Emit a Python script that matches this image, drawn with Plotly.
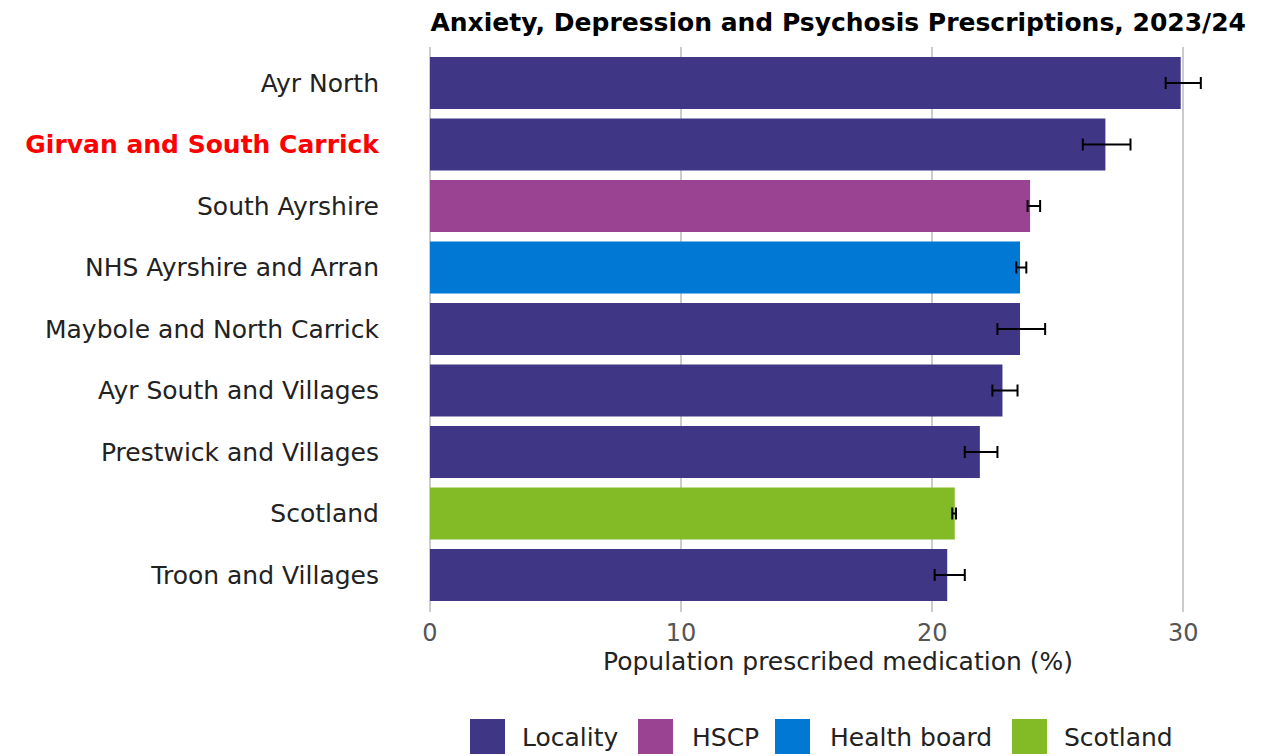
import plotly.graph_objects as go

# ---- data ----
areas = ["Ayr North", "Girvan and South Carrick", "South Ayrshire", "NHS Ayrshire and Arran",
         "Maybole and North Carrick", "Ayr South and Villages", "Prestwick and Villages",
         "Scotland", "Troon and Villages"]
area_types = ["Locality", "Locality", "HSCP", "Health board", "Locality", "Locality",
              "Locality", "Scotland", "Locality"]
values = [29.9, 26.9, 23.9, 23.5, 23.5, 22.8, 21.9, 20.9, 20.6]
lower_ci = [29.3, 26.0, 23.8, 23.35, 22.6, 22.4, 21.3, 20.8, 20.1]
upper_ci = [30.7, 27.9, 24.3, 23.75, 24.5, 23.4, 22.6, 20.95, 21.3]
highlight = "Girvan and South Carrick"
legend_order = ["Locality", "HSCP", "Health board", "Scotland"]
type_colors = {"Locality": "#3F3685", "HSCP": "#9B4393", "Health board": "#0078D4", "Scotland": "#83BB26"}
x_ticks = [0, 10, 20, 30]

OFF = 8  # page body margin
W, H = 1261 - OFF, 756 - OFF
ML, MR, MT, MB = 430 - OFF, 15, 47 - OFF, 144
FONT = "DejaVu Sans"

fig = go.Figure()
for t in legend_order:
    idx = [i for i, a in enumerate(area_types) if a == t]
    fig.add_trace(go.Bar(
        y=[areas[i] for i in idx],
        x=[values[i] for i in idx],
        orientation="h",
        name=t,
        marker=dict(color=type_colors[t], line=dict(width=0)),
        error_x=dict(type="data", symmetric=False,
                     array=[upper_ci[i] - values[i] for i in idx],
                     arrayminus=[values[i] - lower_ci[i] for i in idx],
                     color="black", thickness=2, width=6),
        showlegend=False,
    ))

ticktext = [f"<b><span style='color:red'>{a}</span></b>" if a == highlight else a for a in areas]

fig.update_layout(
    width=W, height=H,
    margin=dict(l=ML, r=MR, t=MT, b=MB),
    plot_bgcolor="white", paper_bgcolor="white",
    bargap=0.155, barmode="overlay",
    font=dict(family=FONT, size=25, color="#222222"),
    title=dict(text="<b>Anxiety, Depression and Psychosis Prescriptions, 2023/24</b>",
               font=dict(family=FONT, size=25, color="black"),
               xref="paper", x=1, xanchor="right", yref="container", y=1 - 5 / H, yanchor="top",
               pad=dict(t=0, b=0)),
    xaxis=dict(range=[0, 32.5], tickvals=x_ticks, showgrid=True, gridcolor="#cccccc", gridwidth=1.5,
               zeroline=True, zerolinecolor="#cccccc", zerolinewidth=1.5,
               tickfont=dict(size=24, color="#555555"), ticks="", ticklabelstandoff=4,
               title=dict(text="Population prescribed medication (%)", font=dict(size=25, color="#222222"),
                          standoff=6)),
    yaxis=dict(categoryorder="array", categoryarray=areas, range=[8.6, -0.585],
               tickvals=areas, ticktext=ticktext, tickfont=dict(size=25, color="#222222"),
               showgrid=False, ticks="", ticklabelstandoff=50),
)

# manual legend (large square keys); positions in page pixels
ph = H - MT - MB
pw = W - ML - MR
def px_x(p):
    return (p - OFF - ML) / pw
def px_y(p):
    return (H - MB - (p - OFF)) / ph

legend_sq_x = [470, 638, 775, 1012]
legend_tx_x = [520, 690, 828, 1062]
for t, sx, tx in zip(legend_order, legend_sq_x, legend_tx_x):
    fig.add_shape(type="rect", xref="paper", yref="paper",
                  x0=px_x(sx), x1=px_x(sx + 35), y0=px_y(754), y1=px_y(719),
                  fillcolor=type_colors[t], line=dict(width=0))
    fig.add_annotation(text=t, xref="paper", yref="paper", x=px_x(tx), y=px_y(737),
                       xanchor="left", yanchor="middle", showarrow=False,
                       font=dict(size=25, color="#222222"))

fig.write_html("out.html")
